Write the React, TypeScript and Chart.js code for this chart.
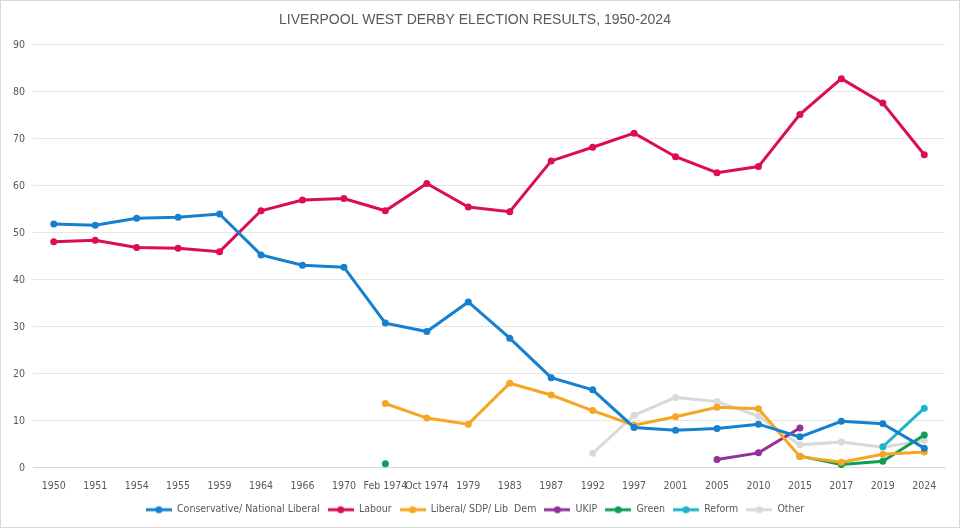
import { useEffect, useRef } from 'react'
import { Chart, registerables } from 'chart.js'

Chart.register(...registerables)

const years = ['1950', '1951', '1954', '1955', '1959', '1964', '1966', '1970', 'Feb 1974', 'Oct 1974', '1979', '1983', '1987', '1992', '1997', '2001', '2005', '2010', '2015', '2017', '2019', '2024']

const conservative = [51.9, 51.6, 53.1, 53.3, 54.0, 45.3, 43.1, 42.7, 30.8, 29.0, 35.3, 27.6, 19.2, 16.6, 8.6, 8.0, 8.4, 9.3, 6.6, 9.9, 9.4, 4.2]
const labour = [48.1, 48.4, 46.9, 46.7, 46.0, 54.7, 57.0, 57.3, 54.7, 60.5, 55.5, 54.5, 65.3, 68.2, 71.2, 66.2, 62.8, 64.1, 75.2, 82.8, 77.6, 66.6]
const libDem = [null, null, null, null, null, null, null, null, 13.7, 10.6, 9.3, 18.0, 15.5, 12.2, 9.1, 10.9, 12.9, 12.6, 2.4, 1.2, 2.9, 3.4]
const ukip = [null, null, null, null, null, null, null, null, null, null, null, null, null, null, null, null, 1.8, 3.2, 8.5, null, null, null]
const green = [null, null, null, null, null, null, null, null, 0.9, null, null, null, null, null, null, null, null, null, 2.5, 0.7, 1.4, 7.0]
const reform = [null, null, null, null, null, null, null, null, null, null, null, null, null, null, null, null, null, null, null, null, 4.5, 12.7]
const other = [null, null, null, null, null, null, null, null, null, null, null, null, null, 3.1, 11.2, 15.0, 14.1, 11.0, 4.9, 5.5, 4.4, 5.9]

const series = [
  { label: 'Conservative/ National Liberal', data: conservative, color: '#1580CF' },
  { label: 'Labour', data: labour, color: '#DC0F4E' },
  { label: 'Liberal/ SDP/ Lib  Dem', data: libDem, color: '#F5A623' },
  { label: 'UKIP', data: ukip, color: '#93309A' },
  { label: 'Green', data: green, color: '#0E9F55' },
  { label: 'Reform', data: reform, color: '#1DB4C9' },
  { label: 'Other', data: other, color: '#D9D9D9' },
]

const font = '"DejaVu Sans Condensed", "Liberation Sans", Arial, sans-serif'

// little line-with-dot swatch for the legend, like Excel's
function swatch(color: string) {
  const c = document.createElement('canvas')
  c.width = 26
  c.height = 10
  const g = c.getContext('2d')!
  g.strokeStyle = color
  g.lineWidth = 3
  g.beginPath()
  g.moveTo(0, 5)
  g.lineTo(26, 5)
  g.stroke()
  g.fillStyle = color
  g.beginPath()
  g.arc(13, 5, 3.5, 0, Math.PI * 2)
  g.fill()
  return c
}

export default function App() {
  const ref = useRef<HTMLCanvasElement | null>(null)

  useEffect(() => {
    document.body.style.margin = '0'
    if (!ref.current) return
    const chart = new Chart(ref.current, {
      type: 'line',
      data: {
        labels: years,
        datasets: series.map(s => ({
          label: s.label,
          data: s.data,
          borderColor: s.color,
          backgroundColor: s.color,
          borderWidth: 3,
          pointRadius: 3.5,
          pointBorderWidth: 0,
          spanGaps: false,
        })),
      },
      options: {
        animation: false,
        responsive: false,
        layout: { padding: { left: 4, right: 14, top: 6, bottom: 2 } },
        plugins: {
          title: {
            display: true,
            text: 'LIVERPOOL WEST DERBY ELECTION RESULTS, 1950-2024',
            color: '#595959',
            font: { family: '"Liberation Sans", Arial, sans-serif', size: 14, weight: 'normal' },
            padding: { top: 5, bottom: 16 },
          },
          legend: {
            position: 'bottom',
            labels: {
              color: '#595959',
              font: { family: font, size: 10.5 },
              usePointStyle: true,
              pointStyleWidth: 26,
              padding: 8,
              generateLabels: (ch) =>
                ch.data.datasets.map((d, i) => ({
                  text: d.label as string,
                  pointStyle: swatch(series[i].color),
                  fillStyle: series[i].color,
                  strokeStyle: series[i].color,
                  lineWidth: 0,
                  datasetIndex: i,
                  fontColor: '#595959',
                })),
            },
          },
          tooltip: { enabled: false },
        },
        scales: {
          x: {
            offset: true,
            grid: { display: false },
            border: { display: true, color: '#D9D9D9' },
            ticks: { color: '#595959', font: { family: font, size: 10.5 }, maxRotation: 0, autoSkip: false, padding: 4 },
          },
          y: {
            min: 0,
            max: 90,
            ticks: { stepSize: 10, color: '#595959', font: { family: font, size: 10.5 }, padding: 8 },
            grid: { color: '#E6E6E6', drawTicks: false },
            border: { display: false },
          },
        },
      },
    })
    return () => chart.destroy()
  }, [])

  return (
    <div style={{ width: 958, height: 526, border: '1px solid #D9D9D9', background: '#fff' }}>
      <canvas ref={ref} width={958} height={526} />
    </div>
  )
}
